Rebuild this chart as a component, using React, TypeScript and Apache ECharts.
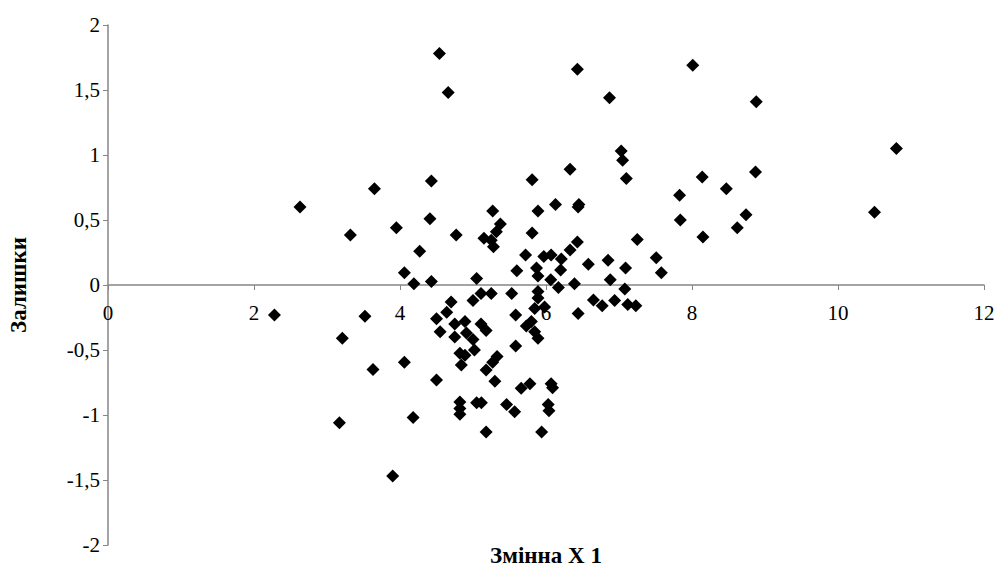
import React, { useEffect, useRef } from "react";
import * as echarts from "echarts";

// Residuals vs variable X1
const xValues: number[] = [
  4.54, 4.66, 4.43, 3.65, 6.43, 6.87, 8.01, 7.03, 7.05, 6.33, 5.81, 7.1, 8.14, 7.83, 6.13, 6.45, 6.44,
  8.88, 10.8, 8.87, 8.47, 8.74, 8.62, 10.5,
  2.63, 3.32, 3.95, 4.41, 4.77, 4.27, 4.06, 4.19, 4.43, 5.05,
  2.28, 3.52, 3.21, 4.7, 5.0, 4.5, 4.64, 4.55,
  4.75, 4.89, 4.75, 4.91, 5.11, 5.18, 5.0, 5.02, 4.82, 4.89, 4.84, 4.06, 3.63, 4.5,
  3.17, 4.18, 4.82, 4.82, 4.82, 5.05, 3.9,
  5.3, 5.66, 5.78, 6.07, 6.09, 5.115, 5.46, 5.57, 6.03, 6.04, 5.18, 5.94,
  5.27, 5.89, 7.84, 8.15, 7.25, 5.375, 5.32, 5.15, 5.28, 5.25, 5.81, 6.43, 6.33, 5.72, 5.97, 6.07,
  6.21, 6.58, 6.85, 7.09, 7.51, 7.58, 5.6, 5.87, 5.89, 6.2, 6.065, 6.17, 6.39, 6.88, 7.08,
  5.11, 5.25, 5.53, 5.89, 5.89, 5.845, 5.98, 6.44, 6.65, 6.77, 6.94, 7.12, 7.23, 5.585, 5.73, 5.8,
  5.845, 5.89, 5.585, 5.33, 5.27, 5.18,
];
const residuals: number[] = [
  1.78, 1.48, 0.8, 0.74, 1.66, 1.44, 1.69, 1.03, 0.96, 0.89, 0.81, 0.82, 0.83, 0.69, 0.62, 0.62, 0.6,
  1.41, 1.05, 0.87, 0.74, 0.54, 0.44, 0.56,
  0.6, 0.385, 0.44, 0.51, 0.385, 0.26, 0.095, 0.01, 0.026, 0.05,
  -0.23, -0.24, -0.41, -0.13, -0.12, -0.26, -0.21, -0.36,
  -0.3, -0.28, -0.4, -0.37, -0.3, -0.35, -0.42, -0.5, -0.525, -0.54, -0.615, -0.595, -0.65, -0.73,
  -1.06, -1.02, -0.9, -0.95, -0.995, -0.905, -1.47,
  -0.74, -0.795, -0.76, -0.76, -0.79, -0.905, -0.92, -0.975, -0.92, -0.967, -1.13, -1.13,
  0.57, 0.57, 0.5, 0.37, 0.35, 0.47, 0.41, 0.36, 0.295, 0.345, 0.4, 0.33, 0.27, 0.23, 0.22, 0.23,
  0.2, 0.16, 0.19, 0.13, 0.21, 0.095, 0.11, 0.13, 0.07, 0.115, 0.04, -0.02, 0.01, 0.04, -0.03,
  -0.065, -0.065, -0.065, -0.05, -0.1, -0.18, -0.17, -0.22, -0.115, -0.16, -0.12, -0.15, -0.16, -0.23, -0.315, -0.28,
  -0.36, -0.41, -0.47, -0.55, -0.595, -0.654,
];

const xTitle = "Змінна X 1";
const yTitle = "Залишки";

const GRID_TOP = 25;
const GRID_BOTTOM = 29;
const CHART_H = 574;

export default function App() {
  const ref = useRef<HTMLDivElement>(null);
  useEffect(() => {
    if (!ref.current) return;
    const chart = echarts.init(ref.current, null, { renderer: "svg" });
    const points = xValues.map((x, i) => [x, residuals[i]]);
    const font = "'Liberation Serif', 'Times New Roman', serif";
    const axisColor = "#868686";
    // x axis crosses the y axis at 0 (middle of the -2..2 range)
    const gridH = CHART_H - GRID_TOP - GRID_BOTTOM;
    chart.setOption({
      animation: false,
      backgroundColor: "#ffffff",
      textStyle: { fontFamily: font },
      grid: { left: 108, right: 16, top: GRID_TOP, bottom: GRID_BOTTOM, containLabel: false },
      xAxis: {
        type: "value",
        min: 0,
        max: 12,
        interval: 2,
        position: "bottom",
        offset: -gridH / 2,
        axisLine: { show: true, onZero: false, lineStyle: { color: axisColor, width: 1.5 } },
        axisTick: { show: true, length: 5, lineStyle: { color: axisColor } },
        axisLabel: { color: "#000", fontFamily: font, fontSize: 21, margin: 17 },
        splitLine: { show: false },
      },
      yAxis: {
        type: "value",
        min: -2,
        max: 2,
        interval: 0.5,
        axisLine: { show: true, onZero: false, lineStyle: { color: axisColor, width: 1.5 } },
        axisTick: { show: true, length: 5, lineStyle: { color: axisColor } },
        axisLabel: {
          color: "#000",
          fontFamily: font,
          fontSize: 21,
          margin: 8,
          formatter: (v: number) => String(v).replace(".", ","),
        },
        splitLine: { show: false },
      },
      series: [
        {
          type: "scatter",
          data: points,
          symbol: "diamond",
          symbolSize: 13,
          itemStyle: { color: "#000000", opacity: 1 },
        },
      ],
      graphic: [
        {
          type: "text",
          x: 546,
          y: 555,
          style: {
            text: xTitle,
            fontFamily: font,
            fontSize: 23,
            fontWeight: "bold",
            fill: "#000",
            align: "center",
            verticalAlign: "middle",
          },
        },
        {
          type: "text",
          x: 18,
          y: 285,
          rotation: Math.PI / 2,
          style: {
            text: yTitle,
            fontFamily: font,
            fontSize: 23,
            fontWeight: "bold",
            fill: "#000",
            align: "center",
            verticalAlign: "middle",
          },
        },
      ],
    });
    return () => chart.dispose();
  }, []);
  return (
    <div
      ref={ref}
      style={{ position: "fixed", left: 0, top: 0, width: 1000, height: 574, background: "#fff" }}
    />
  );
}
